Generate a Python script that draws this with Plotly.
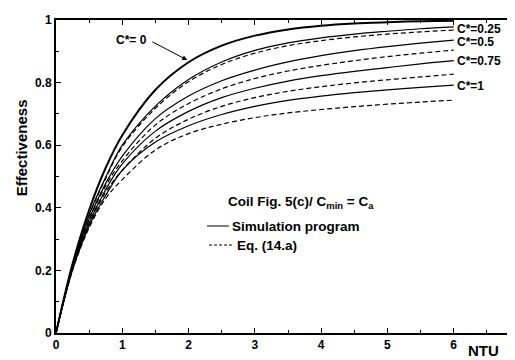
import plotly.graph_objects as go

ntu = [0, 0.25, 0.5, 0.75, 1, 1.5, 2, 2.5, 3, 3.5, 4, 4.5, 5, 5.5, 6]

c0 = [0, 0.221, 0.393, 0.528, 0.632, 0.777, 0.865, 0.918, 0.950, 0.970, 0.982, 0.989, 0.993, 0.996, 0.998]

sim_025 = [0, 0.216, 0.378, 0.498, 0.600, 0.725, 0.810, 0.866, 0.903, 0.927, 0.943, 0.955, 0.964, 0.972, 0.978]
eq_025 = [0, 0.215, 0.375, 0.494, 0.595, 0.718, 0.803, 0.858, 0.894, 0.918, 0.934, 0.946, 0.955, 0.962, 0.968]
sim_05 = [0, 0.212, 0.365, 0.478, 0.565, 0.685, 0.757, 0.806, 0.840, 0.866, 0.886, 0.902, 0.915, 0.926, 0.936]
eq_05 = [0, 0.210, 0.360, 0.470, 0.550, 0.665, 0.733, 0.780, 0.813, 0.837, 0.855, 0.870, 0.883, 0.894, 0.904]
sim_075 = [0, 0.207, 0.352, 0.458, 0.540, 0.645, 0.708, 0.752, 0.782, 0.805, 0.822, 0.836, 0.848, 0.860, 0.870]
eq_075 = [0, 0.205, 0.347, 0.450, 0.520, 0.622, 0.683, 0.724, 0.752, 0.772, 0.787, 0.799, 0.809, 0.818, 0.827]
sim_1 = [0, 0.202, 0.342, 0.440, 0.520, 0.610, 0.662, 0.698, 0.724, 0.743, 0.757, 0.768, 0.777, 0.785, 0.792]
eq_1 = [0, 0.200, 0.336, 0.430, 0.490, 0.585, 0.637, 0.667, 0.688, 0.703, 0.714, 0.723, 0.731, 0.738, 0.744]

labels = ["C*=0.25", "C*=0.5", "C*=0.75", "C*=1"]
label_y = [0.97, 0.93, 0.87, 0.79]

x_ticks = [0, 1, 2, 3, 4, 5, 6, 7]
x_ticktext = ["0", "1", "2", "3", "4", "5", "6", " "]

FONT = "Liberation Sans"
BOLD = lambda s: dict(family=FONT, size=s, color="black", weight="bold")

fig = go.Figure()

# C*=0 (simulation and equation coincide)
fig.add_trace(go.Scatter(x=ntu, y=c0, mode="lines", line=dict(color="black", width=2, shape="spline"), showlegend=False))

for s, e in [(sim_025, eq_025), (sim_05, eq_05), (sim_075, eq_075), (sim_1, eq_1)]:
    fig.add_trace(go.Scatter(x=ntu, y=s, mode="lines", line=dict(color="black", width=1.2, shape="spline"), showlegend=False))
    fig.add_trace(go.Scatter(x=ntu, y=e, mode="lines", line=dict(color="black", width=1.2, dash="5px,3px", shape="spline"), showlegend=False))

px_x = lambda p: (p - 48) / 467
px_y = lambda p: (325 - p) / 313

ann = []
for t, yv in zip(labels, label_y):
    ann.append(dict(x=6.02, y=yv, xref="x", yref="y", text=t, showarrow=False, xanchor="left", yanchor="middle",
                    font=BOLD(12)))

# C*=0 label and arrow
ann.append(dict(x=1.98, y=0.872, xref="x", yref="y", ax=1.43, ay=0.933, axref="x", ayref="y",
                text="", showarrow=True, arrowhead=2, arrowsize=1, arrowwidth=1, arrowcolor="black"))
ann.append(dict(x=1.40, y=0.935, xref="x", yref="y", text="C*= 0", showarrow=False,
                xanchor="right", yanchor="middle", font=BOLD(12)))

ann.append(dict(x=px_x(295), y=px_y(195), xref="paper", yref="paper", text="Coil Fig. 5(c)/ C<sub>min</sub> = C<sub>a</sub>",
                showarrow=False, xanchor="center", yanchor="middle", font=BOLD(13.5)))
ann.append(dict(x=px_x(223), y=px_y(218), xref="paper", yref="paper", text="Simulation program",
                showarrow=False, xanchor="left", yanchor="middle", font=BOLD(13.5)))
ann.append(dict(x=px_x(228), y=px_y(237), xref="paper", yref="paper", text="Eq. (14.a)",
                showarrow=False, xanchor="left", yanchor="middle", font=BOLD(13.5)))
ann.append(dict(x=px_x(13), y=px_y(140), xref="paper", yref="paper", text="Effectiveness", textangle=-90,
                showarrow=False, xanchor="center", yanchor="middle", font=BOLD(15)))
ann.append(dict(x=px_x(478), y=px_y(342), xref="paper", yref="paper", text="NTU",
                showarrow=False, xanchor="center", yanchor="middle", font=BOLD(15)))

shapes = [
    dict(type="line", xref="paper", yref="paper", x0=px_x(200), x1=px_x(222), y0=px_y(218), y1=px_y(218),
         line=dict(color="black", width=1)),
    dict(type="line", xref="paper", yref="paper", x0=px_x(202), x1=px_x(225), y0=px_y(237), y1=px_y(237),
         line=dict(color="black", width=1, dash="3px,2px")),
]

fig.update_layout(
    width=515, height=360,
    margin=dict(l=48, r=1, t=12, b=35),
    paper_bgcolor="white", plot_bgcolor="white",
    annotations=ann, shapes=shapes, showlegend=False,
    xaxis=dict(range=[0, 7], tickmode="array", tickvals=x_ticks, ticktext=x_ticktext,
               showline=True, linecolor="black", linewidth=2, mirror="allticks",
               ticks="inside", ticklen=5, tickcolor="black", tickwidth=1,
               minor=dict(ticks="inside", ticklen=3, tickmode="linear", dtick=0.5, tick0=0, tickcolor="black"),
               showgrid=False, zeroline=False, tickfont=BOLD(12)),
    yaxis=dict(range=[0, 1], tickmode="linear", dtick=0.2, tick0=0,
               showline=True, linecolor="black", linewidth=2, mirror="allticks",
               ticks="inside", ticklen=5, tickcolor="black", tickwidth=1,
               minor=dict(ticks="inside", ticklen=3, tickmode="linear", dtick=0.1, tick0=0, tickcolor="black"),
               showgrid=False, zeroline=False, tickfont=BOLD(12)),
)

fig.write_html("out.html")
